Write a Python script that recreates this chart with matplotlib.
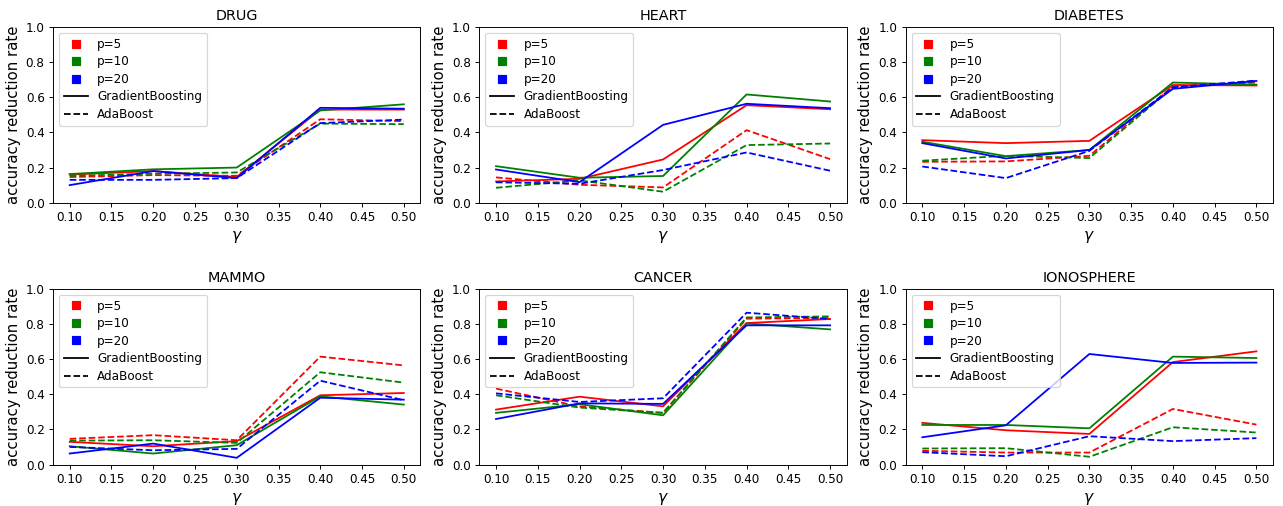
import matplotlib.pyplot as plt
from matplotlib.lines import Line2D

gammas = [0.1, 0.2, 0.3, 0.4, 0.5]
datasets = ["DRUG", "HEART", "DIABETES", "MAMMO", "CANCER", "IONOSPHERE"]
p_labels = ["p=5", "p=10", "p=20"]
colors = ["red", "green", "blue"]

# GradientBoosting results, one list per p value
gb_drug = [[0.16, 0.18, 0.146, 0.53, 0.53],
           [0.163, 0.19, 0.20, 0.525, 0.56],
           [0.10, 0.18, 0.14, 0.54, 0.535]]
gb_heart = [[0.121, 0.136, 0.246, 0.555, 0.532],
            [0.208, 0.142, 0.152, 0.616, 0.576],
            [0.189, 0.117, 0.443, 0.563, 0.538]]
gb_diabetes = [[0.356, 0.339, 0.352, 0.67, 0.667],
               [0.347, 0.265, 0.30, 0.684, 0.672],
               [0.339, 0.252, 0.30, 0.648, 0.693]]
gb_mammo = [[0.129, 0.104, 0.133, 0.394, 0.407],
            [0.104, 0.0625, 0.11, 0.388, 0.341],
            [0.0625, 0.119, 0.038, 0.38, 0.369]]
gb_cancer = [[0.3125, 0.386, 0.331, 0.805, 0.828],
             [0.294, 0.343, 0.28, 0.803, 0.769],
             [0.259, 0.348, 0.345, 0.792, 0.792]]
gb_iono = [[0.237, 0.195, 0.174, 0.583, 0.644],
           [0.225, 0.225, 0.206, 0.614, 0.606],
           [0.155, 0.223, 0.629, 0.578, 0.58]]

# AdaBoost results
ada_drug = [[0.146, 0.157, 0.153, 0.475, 0.464],
            [0.153, 0.165, 0.172, 0.45, 0.447],
            [0.13, 0.13, 0.14, 0.453, 0.473]]
ada_heart = [[0.144, 0.102, 0.087, 0.413, 0.248],
             [0.085, 0.127, 0.0625, 0.328, 0.337],
             [0.116, 0.108, 0.186, 0.286, 0.182]]
ada_diabetes = [[0.233, 0.235, 0.267, 0.661, 0.684],
                [0.239, 0.267, 0.254, 0.657, 0.69],
                [0.206, 0.14, 0.295, 0.657, 0.695]]
ada_mammo = [[0.146, 0.167, 0.138, 0.614, 0.564],
             [0.136, 0.138, 0.123, 0.525, 0.466],
             [0.10, 0.081, 0.089, 0.477, 0.366]]
ada_cancer = [[0.432, 0.33, 0.294, 0.83, 0.834],
              [0.394, 0.324, 0.294, 0.837, 0.843],
              [0.405, 0.356, 0.377, 0.864, 0.828]]
ada_iono = [[0.078, 0.068, 0.068, 0.316, 0.227],
            [0.091, 0.093, 0.044, 0.212, 0.182],
            [0.07, 0.047, 0.161, 0.133, 0.15]]

gb_all = [gb_drug, gb_heart, gb_diabetes, gb_mammo, gb_cancer, gb_iono]
ada_all = [ada_drug, ada_heart, ada_diabetes, ada_mammo, ada_cancer, ada_iono]

# figure drawn larger at a lower dpi so default font sizes come out smaller
fig, axes = plt.subplots(2, 3, figsize=(14.92, 5.884), dpi=86)
fig.subplots_adjust(left=0.0413, right=0.9922, top=0.9466, bottom=0.082,
                    wspace=0.16, hspace=0.49)

handles = [Line2D([], [], marker="s", markersize=7, linestyle="none", color=c, label=l)
           for c, l in zip(colors, p_labels)]
handles.append(Line2D([], [], color="black", linestyle="-", label="GradientBoosting"))
handles.append(Line2D([], [], color="black", linestyle="--", label="AdaBoost"))

for ax, name, gb, ada in zip(axes.flat, datasets, gb_all, ada_all):
    for i, c in enumerate(colors):
        ax.plot(gammas, gb[i], color=c, linestyle="-")
        ax.plot(gammas, ada[i], color=c, linestyle="--")
    ax.set_ylim(0, 1)
    ax.set_xticks([0.10, 0.15, 0.20, 0.25, 0.30, 0.35, 0.40, 0.45, 0.50])
    ax.set_xticklabels(["0.10", "0.15", "0.20", "0.25", "0.30", "0.35",
                        "0.40", "0.45", "0.50"])
    ax.set_title(name, fontsize=12)
    ax.set_xlabel(r"$\gamma$", fontsize=13)
    ax.set_ylabel("accuracy reduction rate", fontsize=12.5)
    ax.legend(handles=handles, loc="upper left", labelspacing=0.38)

fig.savefig("out.png")
